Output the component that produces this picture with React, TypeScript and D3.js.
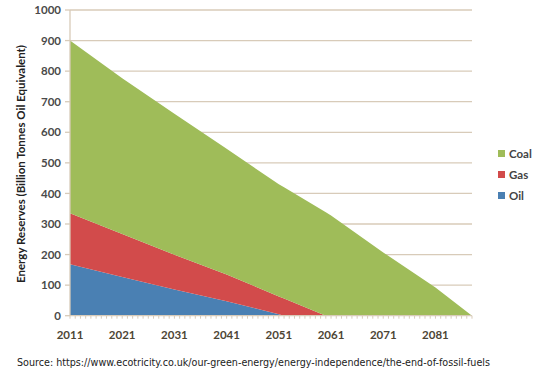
import React from "react";
import * as d3 from "d3";

const years = [2011, 2021, 2031, 2041, 2051, 2052, 2060, 2061, 2071, 2081, 2088];
const oil = [168, 127, 86, 47, 5, 0, 0, 0, 0, 0, 0];
const gas = [167, 140, 113, 88, 58, 56, 0, 0, 0, 0, 0];
const coal = [565, 510, 462, 411, 367, 364, 338, 328, 207, 92, 0];
const seriesNames = ["Oil", "Gas", "Coal"];
const seriesColors = ["#4a80b3", "#d24b4b", "#9fbc59"];
const yTicks = [0, 100, 200, 300, 400, 500, 600, 700, 800, 900, 1000];
const xTickLabels = [2011, 2021, 2031, 2041, 2051, 2061, 2071, 2081];

const W = 541;
const H = 382;
const left = 70;
const right = 472;
const top = 10;
const bottom = 315.7;

export default function App() {
  const x = d3.scaleLinear().domain([2011, 2088]).range([left, right]);
  const y = d3.scaleLinear().domain([0, 1000]).range([bottom, top]);
  const rows = years.map((yr, i) => ({ year: yr, Oil: oil[i], Gas: gas[i], Coal: coal[i] }));
  const stack = d3.stack<any>().keys(seriesNames)(rows);
  const area = d3
    .area<any>()
    .x((d) => x(d.data.year))
    .y0((d) => y(d[0]))
    .y1((d) => y(d[1]));
  const minorYears = d3.range(2011, 2089);
  const grid = "#d8cbb9";
  const labelFont = "Lato, 'Open Sans', sans-serif";
  const legendOrder = [2, 1, 0];

  return (
    <svg width={W} height={H} style={{ position: "absolute", left: 0, top: 0, background: "#fff" }}>
      {yTicks.filter((t) => t > 0).map((t) => (
        <line key={t} x1={left} x2={right} y1={y(t)} y2={y(t)} stroke={grid} strokeWidth={1.3} />
      ))}
      {stack.map((s, i) => (
        <path key={s.key} d={area(s) || ""} fill={seriesColors[i]} />
      ))}
      <line x1={left} x2={left} y1={top} y2={bottom} stroke={grid} strokeWidth={1.3} />
      {yTicks.map((t) => (
        <line key={"yt" + t} x1={left - 5} x2={left} y1={y(t)} y2={y(t)} stroke={grid} strokeWidth={1.3} />
      ))}
      <line x1={left} x2={right} y1={bottom} y2={bottom} stroke={grid} strokeWidth={1.3} />
      {minorYears.map((yr) => (
        <line key={"m" + yr} x1={x(yr)} x2={x(yr)} y1={bottom} y2={bottom + 3} stroke={grid} strokeWidth={1} />
      ))}
      {yTicks.map((t) => (
        <text
          key={"yl" + t}
          x={61}
          y={y(t) + 4.2}
          textAnchor="end"
          fontFamily={labelFont}
          fontWeight="bold"
          fontSize={11.5}
          fill="#4a4a4a"
        >
          {t}
        </text>
      ))}
      {xTickLabels.map((t) => (
        <text
          key={"xl" + t}
          x={x(t)}
          y={338.5}
          textAnchor="middle"
          fontFamily={labelFont}
          fontWeight="bold"
          fontSize={11.5}
          fill="#4d4535"
        >
          {t}
        </text>
      ))}
      <text
        transform={`translate(25,164) rotate(-90)`}
        textAnchor="middle"
        fontFamily={labelFont}
        fontWeight="bold"
        fontSize={11.5}
        fill="#222"
      >
        Energy Reserves (Billion Tonnes Oil Equivalent)
      </text>
      {legendOrder.map((si, k) => (
        <g key={"lg" + si} transform={`translate(498,${150 + k * 21})`}>
          <rect x={0} y={0} width={7} height={7} fill={seriesColors[si]} />
          <text x={11} y={7.5} fontFamily={labelFont} fontWeight="bold" fontSize={11.5} fill="#444">
            {seriesNames[si]}
          </text>
        </g>
      ))}
      <text x={17} y={366} fontFamily="'DejaVu Sans', sans-serif" fontSize={10} fill="#222" textLength={473} lengthAdjust="spacingAndGlyphs">
        Source: https://www.ecotricity.co.uk/our-green-energy/energy-independence/the-end-of-fossil-fuels
      </text>
    </svg>
  );
}
